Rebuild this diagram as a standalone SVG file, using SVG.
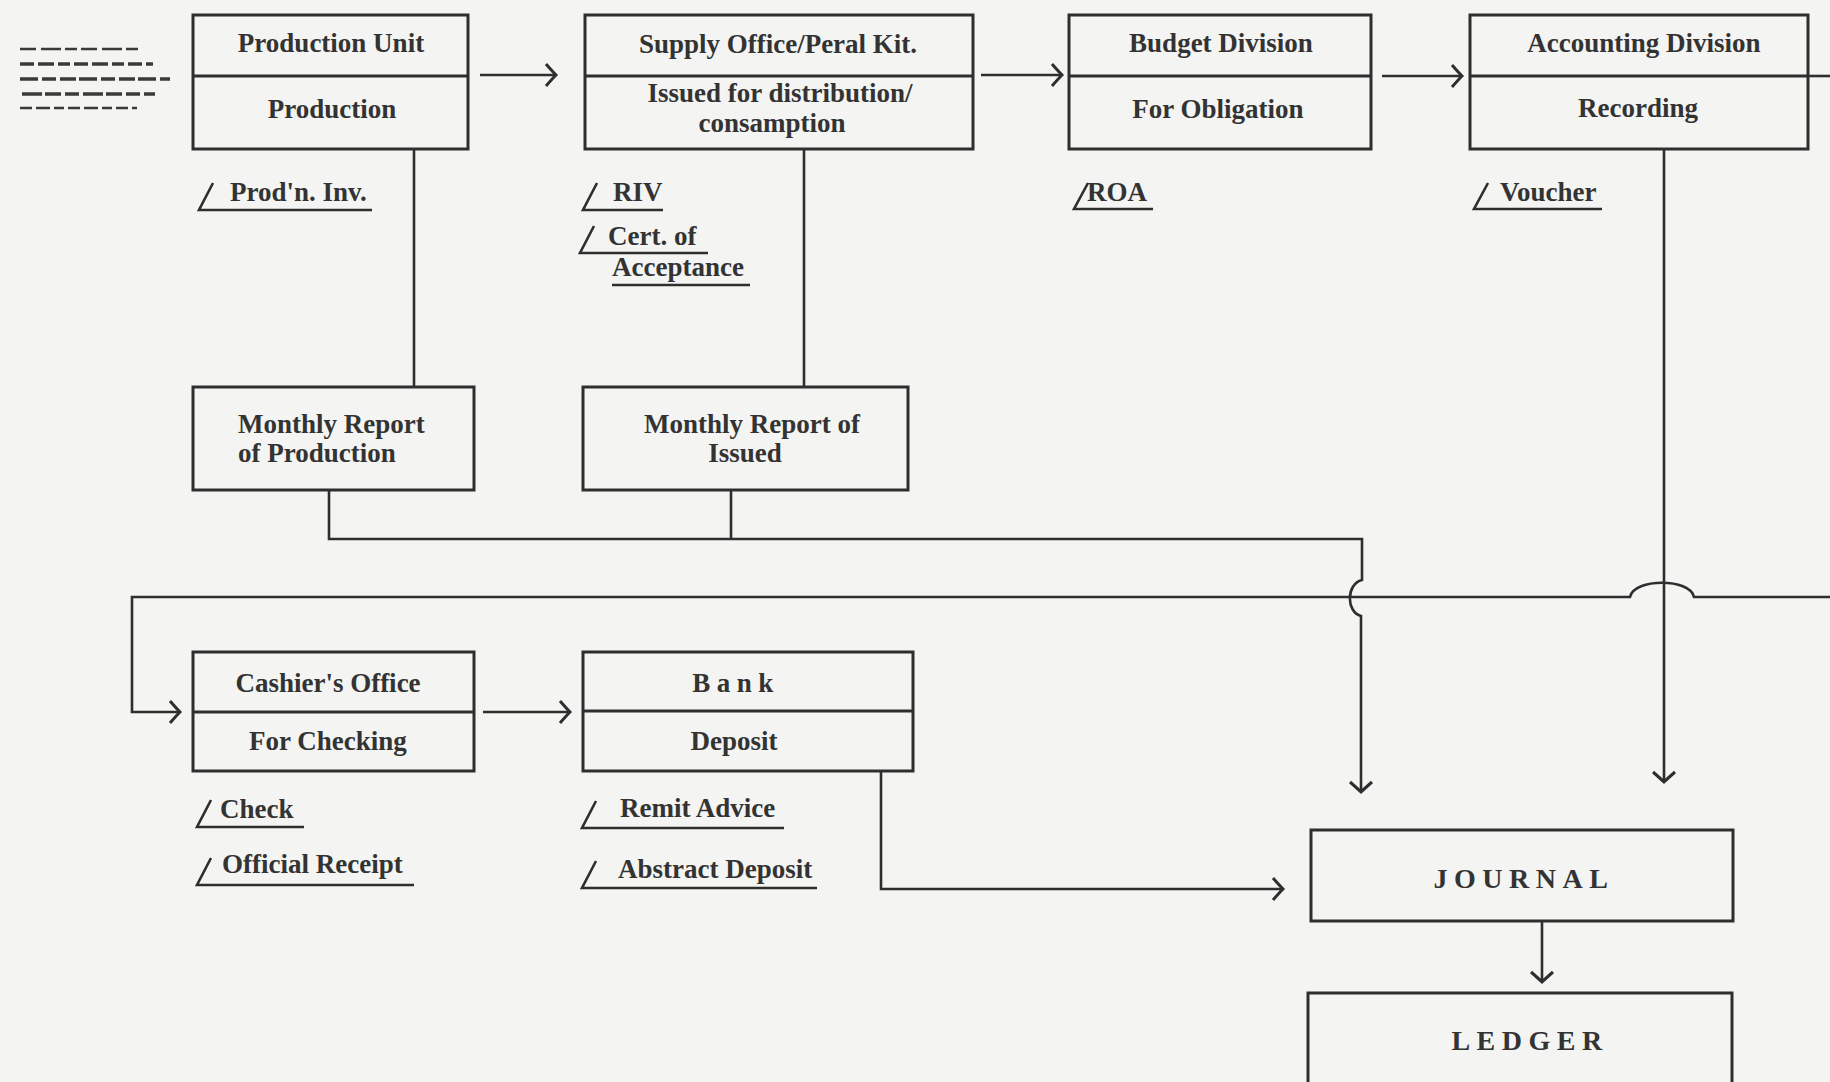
<svg xmlns="http://www.w3.org/2000/svg" width="1830" height="1082" viewBox="0 0 1830 1082">
<defs>
<style>
.bx{fill:none;stroke:#2e2e2e;stroke-width:3}
.ln{fill:none;stroke:#2e2e2e;stroke-width:2.6;stroke-linejoin:miter}
.lb{fill:none;stroke:#2e2e2e;stroke-width:2.6}
.t{font-family:"Liberation Serif","Times New Roman",serif;font-size:27px;font-weight:bold;fill:#333}
.m{text-anchor:middle}
.big{font-size:28px;letter-spacing:6.5px}
.dash{stroke:#3a3a3a;fill:none}
</style>
<marker id="ah" markerUnits="userSpaceOnUse" markerWidth="24" markerHeight="28" viewBox="-12 -14 24 28" refX="0" refY="0" orient="auto">
<path d="M-10,-11 Q-3,-3 0,0 Q-3,3 -10,11" fill="none" stroke="#2e2e2e" stroke-width="3"/>
</marker>
</defs>
<rect x="0" y="0" width="1830" height="1082" fill="#f4f4f2"/>

<g id="legend">
<line class="dash" x1="20" y1="49" x2="138" y2="49" stroke-width="2.5" stroke-dasharray="16 5 20 4 12 4"/>
<line class="dash" x1="20" y1="64" x2="153" y2="64" stroke-width="3.5" stroke-dasharray="14 4 16 4 12 4"/>
<line class="dash" x1="20" y1="79" x2="170" y2="79" stroke-width="3.5" stroke-dasharray="18 4 14 4 16 3"/>
<line class="dash" x1="22" y1="94" x2="155" y2="94" stroke-width="3.5" stroke-dasharray="20 3 16 4 14 4"/>
<line class="dash" x1="20" y1="108" x2="137" y2="108" stroke-width="2.5" stroke-dasharray="12 4 14 4 10 4"/>
</g>

<g id="connectors">
<line class="ln" x1="480" y1="75" x2="556" y2="75" marker-end="url(#ah)"/>
<line class="ln" x1="981" y1="75" x2="1062" y2="75" marker-end="url(#ah)"/>
<line class="ln" x1="1382" y1="76" x2="1462" y2="76" marker-end="url(#ah)"/>
<line class="ln" x1="1808" y1="76" x2="1830" y2="76"/>
<line class="ln" x1="414" y1="149" x2="414" y2="387"/>
<line class="ln" x1="804" y1="149" x2="804" y2="387"/>
<path class="ln" d="M329,490 L329,539 L1362,539 L1362,580 C1346,584 1346,612 1361,616 L1361,792" marker-end="url(#ah)"/>
<line class="ln" x1="731" y1="490" x2="731" y2="539"/>
<path class="ln" d="M1830,597 L1694,597 C1690,578 1634,578 1630,597 L132,597 L132,712 L180,712" marker-end="url(#ah)"/>
<line class="ln" x1="1664" y1="149" x2="1664" y2="782" marker-end="url(#ah)"/>
<line class="ln" x1="483" y1="712" x2="570" y2="712" marker-end="url(#ah)"/>
<path class="ln" d="M881,771 L881,889 L1283,889" marker-end="url(#ah)"/>
<line class="ln" x1="1542" y1="921" x2="1542" y2="982" marker-end="url(#ah)"/>
</g>

<g id="production-unit">
<rect class="bx" x="193" y="15" width="275" height="134"/>
<line class="bx" x1="193" y1="76" x2="468" y2="76"/>
<text class="t m" x="331" y="52">Production Unit</text>
<text class="t m" x="332" y="118">Production</text>
<polyline class="lb" points="213,183 199,210 372,210"/>
<text class="t" x="230" y="201">Prod'n. Inv.</text>
</g>

<g id="supply-office">
<rect class="bx" x="585" y="15" width="388" height="134"/>
<line class="bx" x1="585" y1="76" x2="973" y2="76"/>
<text class="t m" x="778" y="53">Supply Office/Peral Kit.</text>
<text class="t m" x="780" y="102">Issued for distribution/</text>
<text class="t m" x="772" y="132">consamption</text>
<polyline class="lb" points="597,183 583,210 663,210"/>
<text class="t" x="613" y="201">RIV</text>
<polyline class="lb" points="594,226 580,253 708,253"/>
<text class="t" x="608" y="245">Cert. of</text>
<line class="lb" x1="612" y1="285" x2="750" y2="285" stroke-width="3.2"/>
<text class="t" x="612" y="276">Acceptance</text>
</g>

<g id="budget-division">
<rect class="bx" x="1069" y="15" width="302" height="134"/>
<line class="bx" x1="1069" y1="76" x2="1371" y2="76"/>
<text class="t m" x="1221" y="52">Budget Division</text>
<text class="t m" x="1218" y="118">For Obligation</text>
<polyline class="lb" points="1088,183 1074,209 1153,209"/>
<text class="t" x="1087" y="201">ROA</text>
</g>

<g id="accounting-division">
<rect class="bx" x="1470" y="15" width="338" height="134"/>
<line class="bx" x1="1470" y1="76" x2="1808" y2="76"/>
<text class="t m" x="1644" y="52">Accounting Division</text>
<text class="t m" x="1638" y="117">Recording</text>
<polyline class="lb" points="1488,183 1474,209 1602,209"/>
<text class="t" x="1500" y="201">Voucher</text>
</g>

<g id="monthly-report-production">
<rect class="bx" x="193" y="387" width="281" height="103"/>
<text class="t" x="238" y="433">Monthly Report</text>
<text class="t" x="238" y="462">of Production</text>
</g>

<g id="monthly-report-issued">
<rect class="bx" x="583" y="387" width="325" height="103"/>
<text class="t m" x="752" y="433">Monthly Report of</text>
<text class="t m" x="745" y="462">Issued</text>
</g>

<g id="cashiers-office">
<rect class="bx" x="193" y="652" width="281" height="119"/>
<line class="bx" x1="193" y1="712" x2="474" y2="712"/>
<text class="t m" x="328" y="692">Cashier's Office</text>
<text class="t m" x="328" y="750">For Checking</text>
<polyline class="lb" points="211,800 197,827 304,827"/>
<text class="t" x="220" y="818">Check</text>
<polyline class="lb" points="211,858 197,885 414,885"/>
<text class="t" x="222" y="873">Official Receipt</text>
</g>

<g id="bank">
<rect class="bx" x="583" y="652" width="330" height="119"/>
<line class="bx" x1="583" y1="711" x2="913" y2="711"/>
<text class="t m" x="736" y="692" style="letter-spacing:6.5px">Bank</text>
<text class="t m" x="734" y="750">Deposit</text>
<polyline class="lb" points="596,801 582,828 784,828"/>
<text class="t" x="620" y="817">Remit Advice</text>
<polyline class="lb" points="596,861 582,888 817,888"/>
<text class="t" x="618" y="878">Abstract Deposit</text>
</g>

<g id="journal">
<rect class="bx" x="1311" y="830" width="422" height="91"/>
<text class="t m big" x="1524" y="888">JOURNAL</text>
</g>

<g id="ledger">
<rect class="bx" x="1308" y="993" width="424" height="100"/>
<text class="t m big" x="1530" y="1050">LEDGER</text>
</g>
</svg>
